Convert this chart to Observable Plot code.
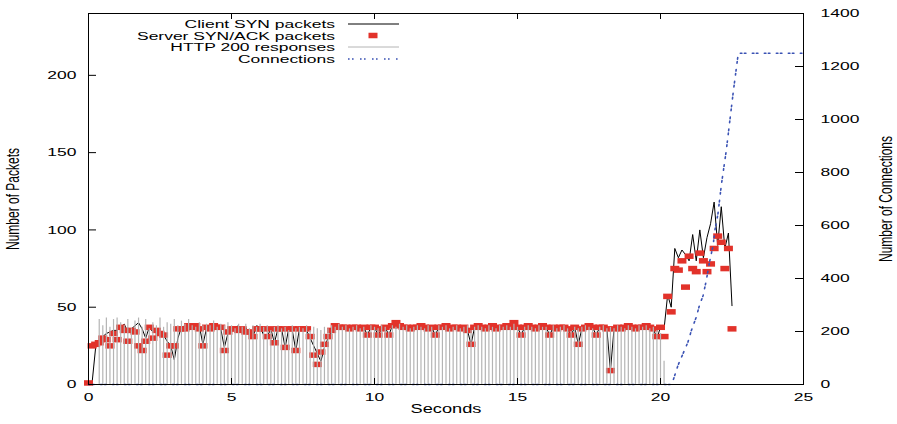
<!DOCTYPE html>
<html><head><meta charset="utf-8">
<script src="https://cdn.jsdelivr.net/npm/d3@7"></script>
<script src="https://cdn.jsdelivr.net/npm/@observablehq/plot@0.6"></script>
<style>
body{margin:0;background:#fff;}
#chart svg{display:block;}
</style></head><body><div id="chart"></div>
<script>
// sampling interval of the packet series (seconds)
const step = 0.125;
const clientSyn = [
  0, 1, 24, 28, 31, 33, 34, 35,
  35, 37, 39, 34, 36, 38, 40, 36,
  30, 37, 34, 36, 34, 32, 28, 25,
  16, 30, 37, 38, 38, 39, 37, 38,
  26, 36, 38, 39, 37, 36, 24, 33,
  36, 37, 38, 35, 37, 33, 31, 38,
  37, 32, 31, 36, 27, 36, 36, 24,
  36, 35, 22, 36, 36, 35, 30, 25,
  20, 15, 24, 30, 35, 37, 38, 37,
  37, 36, 37, 37, 36, 37, 32, 37,
  37, 32, 36, 37, 32, 38, 39, 38,
  37, 37, 36, 37, 37, 38, 37, 36,
  37, 32, 37, 37, 38, 36, 37, 37,
  36, 37, 35, 26, 37, 38, 37, 36,
  37, 38, 36, 37, 37, 38, 37, 40,
  37, 32, 37, 38, 37, 36, 37, 38,
  37, 32, 37, 36, 37, 37, 36, 32,
  37, 26, 36, 37, 38, 37, 32, 37,
  37, 36, 9, 36, 37, 36, 37, 38,
  37, 36, 37, 37, 38, 37, 36, 30,
  37, 36, 58, 50, 88, 82, 87, 84,
  80, 97, 80, 100, 82, 95, 104, 118,
  90, 115, 88, 98, 51
];
const serverSynAck = [
  1, 25, 26, 27, 30, 29, 25, 33,
  29, 37, 35, 28, 35, 34, 25, 22,
  28, 37, 30, 35, 33, 32, 19, 25,
  25, 36, 36, 36, 38, 37, 38, 36,
  25, 37, 36, 38, 37, 37, 22, 34,
  36, 36, 35, 36, 34, 34, 31, 36,
  36, 36, 31, 36, 27, 36, 36, 24,
  36, 36, 22, 36, 36, 36, 31, 19,
  13, 21, 26, 31, 35, 38, 37, 37,
  37, 36, 37, 37, 36, 37, 32, 37,
  37, 32, 36, 37, 32, 38, 40, 38,
  37, 37, 36, 37, 37, 38, 37, 36,
  37, 32, 37, 37, 38, 36, 37, 37,
  36, 37, 35, 26, 37, 38, 37, 36,
  37, 38, 36, 37, 37, 38, 37, 40,
  37, 32, 37, 38, 37, 36, 37, 38,
  37, 32, 37, 36, 37, 37, 36, 32,
  37, 26, 36, 37, 38, 37, 32, 37,
  37, 36, 9, 36, 37, 36, 37, 38,
  37, 36, 37, 37, 38, 37, 36, 31,
  37, 31, 57, 47, 75, 74, 80, 63,
  83, 75, 73, 85, 80, 73, 78, 88,
  96, 92, 75, 88, 36
];
const http200 = [
  0, 0, 0, 42, 38, 43, 37, 42,
  43, 40, 38, 42, 36, 41, 43, 37,
  42, 36, 40, 38, 43, 37, 40, 39,
  42, 38, 41, 39, 42, 38, 37, 40,
  38, 39, 38, 41, 37, 39, 38, 40,
  38, 36, 39, 37, 39, 36, 38, 37,
  39, 37, 38, 35, 37, 38, 36, 37,
  35, 38, 36, 37, 36, 38, 35, 37,
  36, 35, 37, 36, 38, 37, 39, 37,
  38, 36, 37, 38, 36, 37, 34, 38,
  37, 36, 38, 37, 34, 38, 37, 39,
  37, 38, 36, 37, 38, 37, 36, 38,
  37, 34, 38, 37, 38, 36, 37, 38,
  36, 37, 38, 35, 37, 38, 37, 36,
  38, 37, 36, 38, 37, 38, 37, 39,
  37, 34, 37, 38, 37, 36, 38, 37,
  37, 34, 38, 36, 37, 38, 36, 34,
  37, 36, 37, 38, 37, 36, 34, 37,
  38, 36, 37, 36, 38, 37, 36, 38,
  37, 36, 38, 37, 38, 36, 37, 35,
  33, 15
];
const connTimes  = [0, 20.35, 20.44, 20.61, 20.79, 20.96, 21.08, 21.25, 21.36, 21.49, 21.6, 21.71, 21.84, 21.9, 22.01, 22.13, 22.3, 22.55, 22.72, 25];
const connCounts = [0, 0, 15, 72, 117, 160, 204, 254, 298, 336, 392, 460, 525, 581, 645, 755, 883, 1109, 1250, 1250];

const xTicks = [0, 5, 10, 15, 20, 25];
const yTicks = [0, 50, 100, 150, 200];
const y2Ticks = [0, 200, 400, 600, 800, 1000, 1200, 1400];
const legendLabels = ["Client SYN packets", "Server SYN/ACK packets", "HTTP 200 responses", "Connections"];

const W = 897, H = 424, mL = 88, mR = 94, mT = 13, mB = 40;
const xMax = 25, yMax = 240, y2Max = 1400, k = yMax / y2Max;
const pxX = (W - mL - mR) / xMax, pxY = (H - mT - mB) / yMax;
const RED = "#e2322a", GRAY = "#b4b4b4", BLUE = "#3a52b4";
const DASH = "1.6,2.4,1.6,6.4";
const SX = 1.52;

const client = clientSyn.map((v, i) => ({t: i * step, v}));
const server = serverSynAck.map((v, i) => ({t: i * step, v}));
const http = http200.map((v, i) => ({t: i * step, v})).filter(d => d.v > 0);
const conn = connTimes.map((t, i) => ({t, c: connCounts[i]}));

const rectSym = {draw(ctx) {
  ctx.moveTo(-4.5, -2.75); ctx.lineTo(4.5, -2.75); ctx.lineTo(4.5, 2.75); ctx.lineTo(-4.5, 2.75); ctx.closePath();
}};

const chart = Plot.plot({
  width: W, height: H,
  marginLeft: mL, marginRight: mR, marginTop: mT, marginBottom: mB,
  style: {fontFamily: "'Liberation Sans', Arial, sans-serif", fontSize: "11.5px", background: "#fff", color: "#000"},
  x: {domain: [0, xMax]},
  y: {domain: [0, yMax]},
  marks: [
    Plot.lineY(client, {x: "t", y: "v", stroke: "#000", strokeWidth: 1}),
    Plot.dot(server, {x: "t", y: "v", symbol: rectSym, fill: RED, stroke: "none"}),
    Plot.ruleX(http, {x: "t", y1: 0, y2: "v", stroke: GRAY, strokeWidth: 1.2}),
    Plot.line(conn, {x: "t", y: d => d.c * k, stroke: BLUE, strokeWidth: 1.6, strokeDasharray: DASH}),
    Plot.frame({stroke: "#000", strokeWidth: 1}),
    Plot.ruleX(xTicks, {x: d => d, y1: 0, y2: 6 / pxY, stroke: "#000"}),
    Plot.ruleX(xTicks, {x: d => d, y1: yMax, y2: yMax - 6 / pxY, stroke: "#000"}),
    Plot.ruleY(yTicks, {y: d => d, x1: 0, x2: 8 / pxX, stroke: "#000"}),
    Plot.ruleY(y2Ticks, {y: d => d * k, x1: xMax, x2: xMax - 8 / pxX, stroke: "#000"}),
    Plot.axisX({ticks: xTicks, tickSize: 0, tickPadding: 8, label: null}),
    Plot.axisY({ticks: yTicks, tickSize: 0, tickPadding: 12, label: null}),
    Plot.axisY({anchor: "right", ticks: y2Ticks.map(v => v * k), tickFormat: d => String(Math.round(d / k)), tickSize: 0, tickPadding: 17, label: null}),
    Plot.text(["Seconds"], {frameAnchor: "bottom", dy: 28, text: d => d, fontSize: 12, textAnchor: "middle"}),
    Plot.text(["Number of Packets"], {frameAnchor: "left", dx: -75, rotate: -90, text: d => d, fontSize: 12, textAnchor: "middle", lineAnchor: "middle"}),
    Plot.text(["Number of Connections"], {frameAnchor: "right", dx: 83, rotate: -90, text: d => d, fontSize: 12, textAnchor: "middle", lineAnchor: "middle"})
  ]
});

document.getElementById("chart").appendChild(chart);

// legend (top, right-aligned labels with samples)
const svg = d3.select(chart);
const rowsY = [24, 35.5, 47, 59];
const lg = svg.append("g").attr("font-family", "'Liberation Sans', Arial, sans-serif").attr("font-size", "11.5px");
legendLabels.forEach((lab, i) => {
  lg.append("text").attr("x", 335).attr("y", rowsY[i]).attr("dy", "0.36em").attr("text-anchor", "end").attr("fill", "#000").text(lab);
});
lg.append("line").attr("x1", 348).attr("x2", 399).attr("y1", rowsY[0]).attr("y2", rowsY[0]).attr("stroke", "#000");
lg.append("rect").attr("x", 368.5).attr("y", rowsY[1] - 2.75).attr("width", 9).attr("height", 5.5).attr("fill", RED);
lg.append("line").attr("x1", 348).attr("x2", 399).attr("y1", rowsY[2]).attr("y2", rowsY[2]).attr("stroke", GRAY);
lg.append("line").attr("x1", 348).attr("x2", 399).attr("y1", rowsY[3]).attr("y2", rowsY[3]).attr("stroke", BLUE).attr("stroke-width", 1.6).attr("stroke-dasharray", DASH);

// widen glyphs horizontally like the reference
svg.selectAll("text").each(function() {
  const el = this;
  let tr = el.getAttribute("transform");
  if (!tr) {
    const x = +(el.getAttribute("x") || 0), y = +(el.getAttribute("y") || 0);
    el.removeAttribute("x"); el.removeAttribute("y");
    tr = `translate(${x},${y})`;
  }
  el.setAttribute("transform", tr + (tr.includes("rotate") ? ` scale(1,${SX})` : ` scale(${SX},1)`));
});
</script></body></html>
